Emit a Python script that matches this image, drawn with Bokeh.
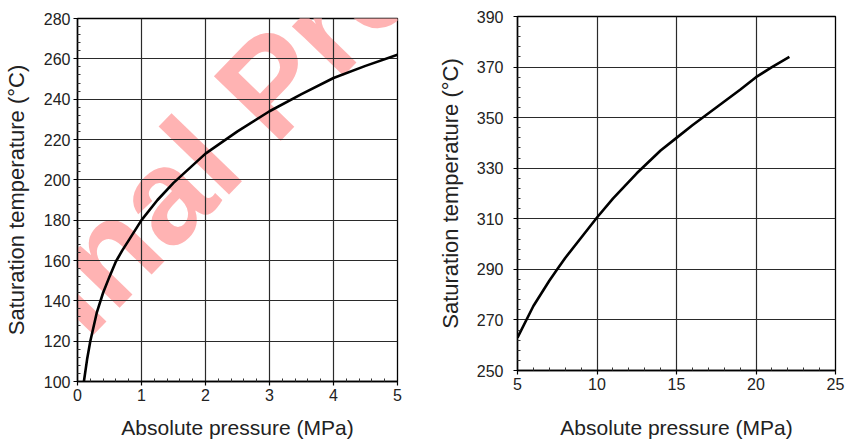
import numpy as np
from bokeh.plotting import figure
from bokeh.layouts import row, column
from bokeh.models import FixedTicker, Label
from bokeh.embed import file_html
from bokeh.resources import INLINE

# ---- data ----
left_pressure = [0.10, 0.15, 0.20, 0.30, 0.40, 0.50, 0.60, 0.70, 0.80, 1.00, 1.25, 1.50,
                 2.00, 2.50, 3.00, 3.50, 4.00, 4.50, 5.00, 5.16]
left_temp = [100, 111, 120, 134, 144, 152, 159.5, 165, 170, 180, 190, 198.5,
             213, 224, 234, 242.5, 250.5, 256.5, 262, 265.5]

right_pressure = [5, 6, 7, 7.5, 8, 9, 10, 11, 12.5, 14, 15, 16, 17.5, 19, 20, 21, 22.1]
right_temp = [263, 275.5, 285.5, 290, 294.5, 302.5, 310.5, 318, 328, 337, 342, 347,
              354, 361, 366, 370, 374]

left_xticks = [0, 1, 2, 3, 4, 5]
left_yticks = [100, 120, 140, 160, 180, 200, 220, 240, 260, 280]
right_xticks = [5, 10, 15, 20, 25]
right_yticks = [250, 270, 290, 310, 330, 350, 370, 390]

x_label = "Absolute pressure (MPa)"
y_label = "Saturation temperature (°C)"
watermark = "Final Proof"

FONT = "Liberation Sans"
TXT = "#222222"


def minors(ticks, n=5):
    out = []
    for a, b in zip(ticks[:-1], ticks[1:]):
        step = (b - a) / n
        out += [a + step * k for k in range(1, n)]
    return out


def style(p, xt, yt, xl_standoff, yl_standoff, x_lab_standoff, y_lab_standoff):
    p.xaxis.ticker = FixedTicker(ticks=xt, minor_ticks=minors(xt))
    p.yaxis.ticker = FixedTicker(ticks=yt, minor_ticks=minors(yt))
    for ax, lst, labst in ((p.xaxis, xl_standoff, x_lab_standoff), (p.yaxis, yl_standoff, y_lab_standoff)):
        ax.axis_line_color = "black"
        ax.axis_line_width = 1.5
        ax.major_tick_out = 4
        ax.major_tick_in = 0
        ax.major_tick_line_color = "black"
        ax.major_tick_line_width = 1.2
        ax.minor_tick_in = 3
        ax.minor_tick_out = 0
        ax.minor_tick_line_color = "#333333"
        ax.major_label_text_font = FONT
        ax.major_label_text_font_size = "16px"
        ax.major_label_text_color = TXT
        ax.major_label_standoff = lst
        ax.axis_label_text_font = FONT
        ax.axis_label_text_font_style = "normal"
        ax.axis_label_text_color = TXT
        ax.axis_label_standoff = labst
    p.xaxis.axis_label_text_font_size = "21px"
    p.yaxis.axis_label_text_font_size = "22px"
    p.xaxis.axis_label = x_label
    p.yaxis.axis_label = y_label
    p.grid.grid_line_color = "#2a2a2a"
    p.grid.grid_line_width = 1.2
    p.outline_line_color = "black"
    p.outline_line_width = 1.3
    p.outline_line_alpha = 1.0
    p.background_fill_color = "white"
    p.border_fill_color = "white"


p1 = figure(width=420, height=441, x_range=(0, 5), y_range=(100, 280),
            output_backend="svg", toolbar_location=None,
            min_border_left=77, min_border_right=23, min_border_top=18, min_border_bottom=60)
style(p1, left_xticks, left_yticks, 3, 3, 12, 12)

# watermark (drawn beneath grid and curve)
p1.add_layout(Label(x=-1.27, y=106.4, text=watermark, angle=46, angle_units="deg",
                    text_font=FONT, text_font_style="bold", text_font_size="135px",
                    text_color="#ffb3b3",
                    text_align="left", text_baseline="alphabetic", level="image"))

p1.line(left_pressure, left_temp, line_color="black", line_width=2.6)

p2 = figure(width=427, height=441, x_range=(5, 25), y_range=(250, 390),
            output_backend="svg", toolbar_location=None,
            min_border_left=97, min_border_right=12, min_border_top=16, min_border_bottom=71)
style(p2, right_xticks, right_yticks, 3, 10, 23, 11)
p2.line(right_pressure, right_temp, line_color="black", line_width=2.6)

layout = row(column(p1), column(p2))
open("out.html", "w").write(file_html(layout, INLINE))
